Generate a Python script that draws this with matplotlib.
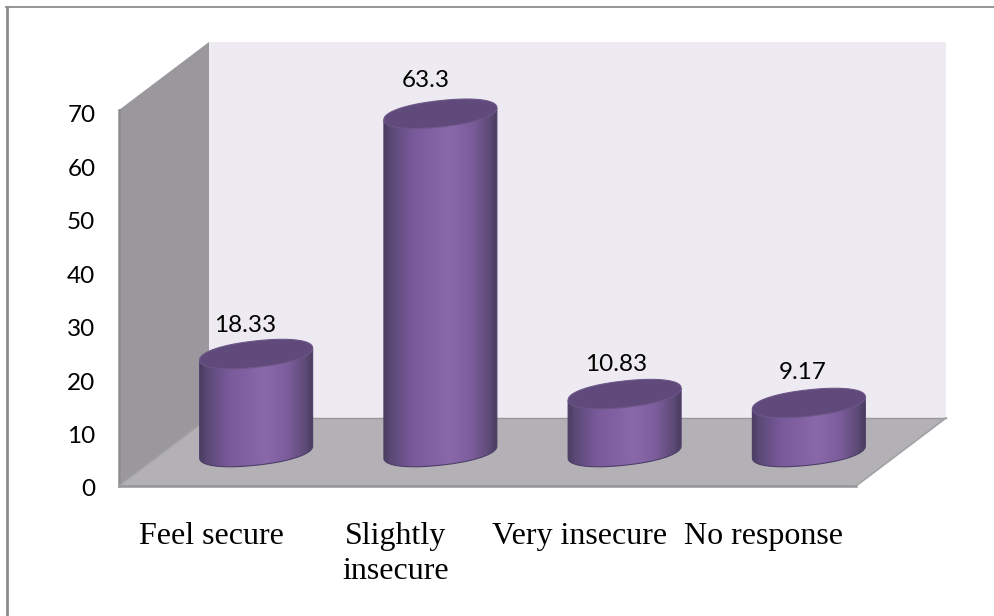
import numpy as np
import matplotlib
matplotlib.use("Agg")
import matplotlib.pyplot as plt
from matplotlib.colors import LinearSegmentedColormap
from matplotlib.lines import Line2D
from matplotlib.patches import PathPatch, Polygon
from matplotlib.path import Path
from matplotlib.transforms import Affine2D, IdentityTransform

categories = ["Feel secure", "Slightly\ninsecure", "Very insecure", "No response"]
values = [18.33, 63.3, 10.83, 9.17]
value_labels = ["18.33", "63.3", "10.83", "9.17"]
y_ticks = [0, 10, 20, 30, 40, 50, 60, 70]

# label nudges in pixels, relative to the centre of each bar top
label_dx = [-11, -15, -9, -6]
label_dy = [29, 33, 30, 31]

# depth of the fake 3d box in pixels
BOX_DX = 90
BOX_DY = 68
# half radius of the cylinder, tilt and squash of its ellipses
CYL_A = 56.5
CYL_B = 13.2
CYL_TILT = 6.0
# below 1 makes the ends of the ellipse a bit blunter
CYL_ROUND = 0.92

side_cmap = LinearSegmentedColormap.from_list("cyl", [
    (0.0, "#4b3c63"), (0.07, "#5d4a79"), (0.25, "#78599a"), (0.58, "#8a69aa"),
    (0.78, "#7c5d9c"), (0.93, "#5d4b78"), (1.0, "#4b3d60")])

WIDTH, HEIGHT = 995, 616
fig = plt.figure(figsize=(WIDTH / 100, HEIGHT / 100), dpi=100, facecolor="white")
ax = fig.add_axes([119 / WIDTH, (HEIGHT - 486) / HEIGHT, 737 / WIDTH, 376 / HEIGHT])
ax.set_xlim(-0.5, 3.5)
ax.set_ylim(0, 376 / 5.343)
ax.patch.set_visible(False)
for s in ax.spines.values():
    s.set_visible(False)

ax.set_yticks(y_ticks)
ax.set_xticks(range(len(categories)))
ax.set_xticklabels(categories, family="Liberation Serif", fontsize=23, linespacing=1.27)
ax.tick_params(axis="x", length=0, pad=26)
ax.tick_params(axis="y", length=0, pad=17, labelsize=17.5)
for lab in ax.get_yticklabels():
    lab.set_family("Lato")
    lab.set_transform(lab.get_transform() + Affine2D().translate(0, -2))

ident = IdentityTransform()
x0, y0 = ax.transData.transform((-0.5, 0))
x1, y1 = ax.transData.transform((3.5, ax.get_ylim()[1]))


def panel(points, color, zorder=1):
    ax.add_patch(Polygon(points, closed=True, facecolor=color, edgecolor="none",
                         transform=ident, clip_on=False, zorder=zorder))


def edge(xs, ys, color="#959597", lw=1.4):
    ax.add_line(Line2D(xs, ys, color=color, lw=lw, transform=ident, clip_on=False, zorder=1.5))


def ellipse_points(cx, cy, angles):
    c = np.cos(angles)
    s = np.sin(angles)
    c = np.sign(c) * np.abs(c) ** CYL_ROUND
    s = np.sign(s) * np.abs(s) ** CYL_ROUND
    return np.column_stack([cx + CYL_A * c, cy + CYL_TILT * c + CYL_B * s])


# walls and floor
panel([(x0 + BOX_DX, y0 + BOX_DY), (x0 + BOX_DX, y1 + BOX_DY),
       (x1 + BOX_DX, y1 + BOX_DY), (x1 + BOX_DX, y0 + BOX_DY)], "#edebf1")
panel([(x0, y0), (x0, y1), (x0 + BOX_DX, y1 + BOX_DY), (x0 + BOX_DX, y0 + BOX_DY)], "#9a989c")
panel([(x0, y0), (x0 + BOX_DX, y0 + BOX_DY), (x1 + BOX_DX, y0 + BOX_DY), (x1, y0)], "#b3b1b6")
edge([x0, x0], [y0, y1], "#8e8e90", 1.8)
edge([x0, x1], [y0, y0], "#959597", 1.8)
edge([x0 + BOX_DX, x1 + BOX_DX], [y0 + BOX_DY, y0 + BOX_DY], "#98989a", 1.0)
edge([x1, x1 + BOX_DX], [y0, y0 + BOX_DY], "#a2a2a4", 1.2)
edge([x0, x0 + BOX_DX], [y0, y0 + BOX_DY], "#a4a4a6", 1.0)

# bars sit half way into the box
shift = Affine2D().translate(BOX_DX / 2, BOX_DY / 2)
half_w = CYL_A / (737 / 4)

for i, v in enumerate(values):
    bx, by = ax.transData.transform((i, 0)) + (BOX_DX / 2, BOX_DY / 2)
    tx, ty = ax.transData.transform((i, v)) + (BOX_DX / 2, BOX_DY / 2)

    # side of the cylinder: left edge, lower arc of the base, right edge
    arc = ellipse_points(bx, by, np.linspace(np.pi, 2 * np.pi, 60))
    outline = np.vstack([[tx - CYL_A, ty - CYL_TILT], arc, [tx + CYL_A, ty + CYL_TILT],
                         [tx - CYL_A, ty - CYL_TILT]])
    body = PathPatch(Path(outline, closed=True), facecolor="none", edgecolor="#4d3e68",
                     lw=0.8, transform=ident, clip_on=False, zorder=3)
    ax.add_patch(body)

    im = ax.imshow(np.linspace(0, 1, 256)[None, :], cmap=side_cmap, aspect="auto",
                   extent=(i - half_w, i + half_w, -6, v + 6), zorder=2.5,
                   interpolation="bilinear")
    im.set_transform(ax.transData + shift)
    im.set_clip_box(fig.bbox)
    im.set_clip_path(body)

    top = ellipse_points(tx, ty, np.linspace(0, 2 * np.pi, 121))
    ax.add_patch(Polygon(top, closed=True, facecolor="#5f4a7b", edgecolor="#6d5789", lw=0.8,
                         transform=ident, clip_on=False, zorder=4))

    ax.annotate(value_labels[i], xy=(tx + label_dx[i], ty + label_dy[i]), xycoords=ident,
                ha="center", va="center", family="Lato", fontsize=17.5, color="black",
                annotation_clip=False, zorder=5)

ax.set_xlim(-0.5, 3.5)
ax.set_ylim(0, 376 / 5.343)

# frame around the slide, only top and left are visible
fig.add_artist(Line2D([7.5 / WIDTH, 7.5 / WIDTH], [0, 1 - 6.5 / HEIGHT], color="#8c8c8c", lw=2.0))
fig.add_artist(Line2D([6.5 / WIDTH, 1], [1 - 6.8 / HEIGHT, 1 - 6.8 / HEIGHT], color="#8c8c8c", lw=1.3))

fig.savefig("out.png", dpi=100)
